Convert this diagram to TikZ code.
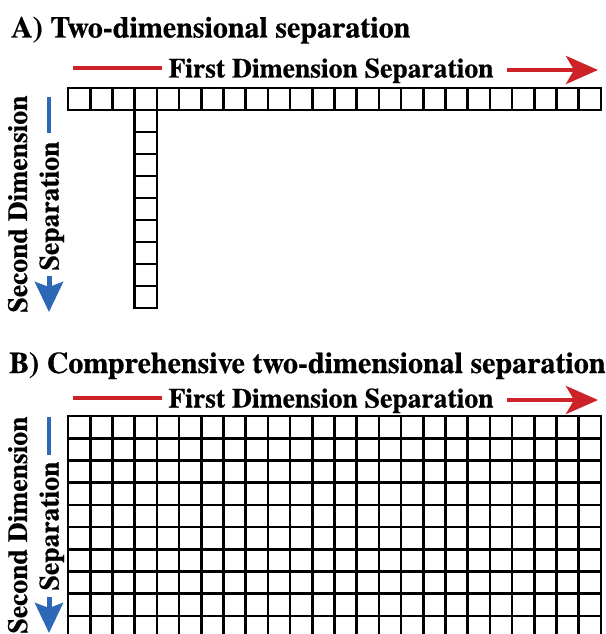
\documentclass[tikz,border=0pt]{standalone}
\usepackage{fontspec}
\setmainfont{texgyretermes}[Extension=.otf,UprightFont=*-regular,BoldFont=*-bold,
  BoldFeatures={FakeBold=0.5}]
\usetikzlibrary{arrows.meta}

\definecolor{sepred}{RGB}{204,34,40}
\definecolor{sepblue}{RGB}{44,104,182}

\begin{document}
\begin{tikzpicture}[x=1pt,y=-1pt,
  cellline/.style={line width=2.6pt,draw=black,line cap=rect},
  paneltitle/.style={font=\rmfamily\bfseries\fontsize{30}{31}\selectfont,anchor=base west,inner sep=0pt},
  axislabel/.style={font=\rmfamily\bfseries\fontsize{27.6}{28}\selectfont,anchor=base,inner sep=0pt},
  redbar/.style={line width=4.5pt,draw=sepred},
  redarrow/.style={line width=4.5pt,draw=sepred,fill=sepred,
    -{Stealth[length=32pt,width=28pt,inset=8pt]}},
  bluebar/.style={line width=4.5pt,draw=sepblue},
  bluearrow/.style={line width=5pt,draw=sepblue,fill=sepblue,
    -{Stealth[length=30pt,width=28pt,inset=5pt]}}
]
\useasboundingbox (0,0) rectangle (605,634);
\clip (0,0) rectangle (605,634);
\def\cw{22.2083}

% ---------------- Panel A ----------------
\node[paneltitle] (titleA) at (11,37.5) {A) Two-dimensional separation};

\node[axislabel] (firstA) at (331,77.5) {First Dimension Separation};
\coordinate (rA1) at (73,68);
\coordinate (rA2) at (162,68);
\coordinate (rA3) at (507,70);
\coordinate (rA4) at (598,70);
\draw[redbar] (rA1) -- (rA2);
\draw[redarrow] (rA3) -- (rA4);

% single row of first-dimension fractions
\draw[cellline] (68,88) rectangle (601,110);
\foreach \i in {1,...,23}
  \draw[cellline] ({68+\i*\cw},88) -- ({68+\i*\cw},110);
% one fraction taken into the second dimension
\draw[cellline] ({68+3*\cw},110) rectangle ({68+4*\cw},308);
\foreach \j in {1,...,8}
  \draw[cellline] ({68+3*\cw},{110+\j*22}) -- ++(\cw,0);

\node[axislabel,rotate=90] (secondA) at (27,204) {Second Dimension};
\node[axislabel,rotate=90] (sepA) at (58.5,206) {Separation};
\coordinate (bA1) at (49,97);
\coordinate (bA2) at (49,133);
\coordinate (bA3) at (49,276);
\coordinate (bA4) at (49,312);
\draw[bluebar] (bA1) -- (bA2);
\draw[bluearrow] (bA3) -- (bA4);

% ---------------- Panel B ----------------
\node[paneltitle] (titleB) at (9,373) {B) Comprehensive two-dimensional separation};

\node[axislabel] (firstB) at (331,407.5) {First Dimension Separation};
\coordinate (rB1) at (73,398);
\coordinate (rB2) at (162,398);
\coordinate (rB3) at (507,400);
\coordinate (rB4) at (598,400);
\draw[redbar] (rB1) -- (rB2);
\draw[redarrow] (rB3) -- (rB4);

% every fraction taken into the second dimension
\foreach \i in {0,...,24}
  \draw[cellline] ({68+\i*\cw},416) -- ({68+\i*\cw},640);
\foreach \j in {0,...,10}
  \draw[cellline] (68,{416+\j*22.2}) -- (601,{416+\j*22.2});

\node[axislabel,rotate=90] (secondB) at (27,525) {Second Dimension};
\node[axislabel,rotate=90] (sepB) at (58.5,526) {Separation};
\coordinate (bB1) at (49,417);
\coordinate (bB2) at (49,455);
\coordinate (bB3) at (49,597);
\coordinate (bB4) at (49,633);
\draw[bluebar] (bB1) -- (bB2);
\draw[bluearrow] (bB3) -- (bB4);
\end{tikzpicture}
\end{document}
